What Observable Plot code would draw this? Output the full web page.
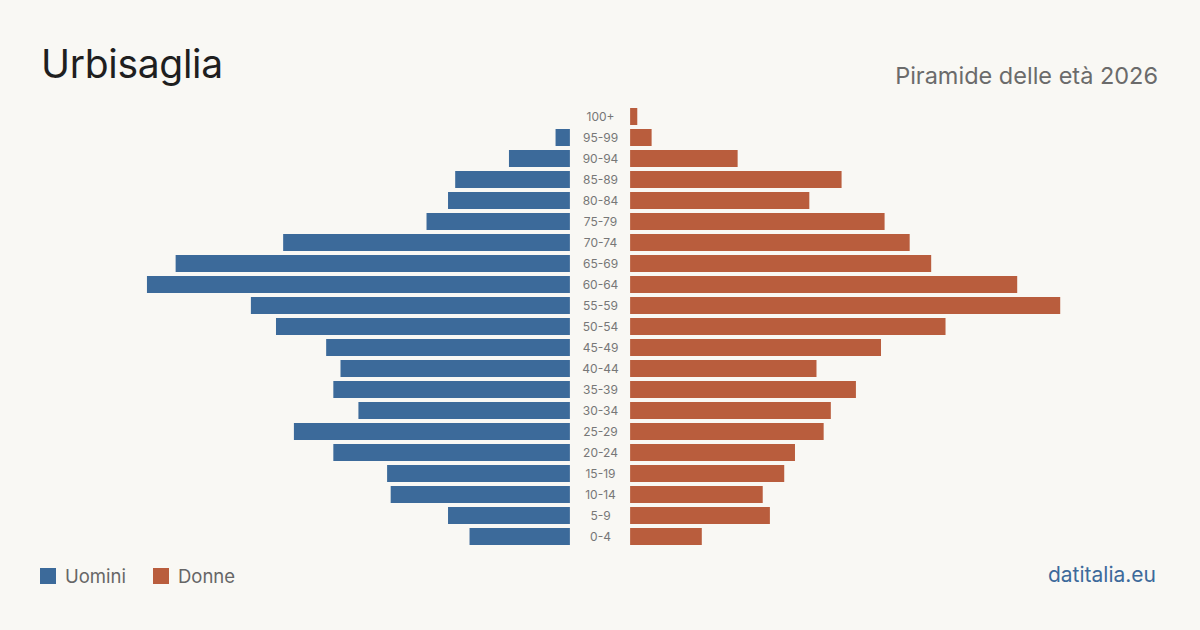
<!DOCTYPE html>
<html lang="it">
<head>
<meta charset="utf-8">
<title>Urbisaglia – Piramide delle età 2026</title>
<script src="https://cdn.jsdelivr.net/npm/d3@7"></script>
<script src="https://cdn.jsdelivr.net/npm/@observablehq/plot@0.6"></script>
<style>
  html, body { margin: 0; padding: 0; }
  body {
    width: 1200px; height: 630px; overflow: hidden;
    background: #f9f8f4; position: relative;
    font-family: Inter, "Noto Sans", sans-serif;
  }
  .title { position: absolute; left: 41px; top: 44px; font-size: 39px; line-height: 40px; color: #1f1f1f; letter-spacing: -0.3px; }
  .subtitle { position: absolute; right: 42px; top: 62px; font-size: 23.5px; line-height: 28px; color: #6b6b6b; }
  #chart { position: absolute; left: 0; top: 106px; }
  .legend { position: absolute; left: 40px; top: 565px; display: flex; align-items: center; font-size: 18.5px; color: #666; }
  .legend .item { display: flex; align-items: center; margin-right: 27px; }
  .legend .sw { width: 16px; height: 16px; margin-right: 9px; }
  .source { position: absolute; right: 44px; top: 562px; font-size: 21px; color: #3d6a9b; }
</style>
</head>
<body>
<div class="title">Urbisaglia</div>
<div class="subtitle">Piramide delle età 2026</div>
<div id="chart"></div>
<div class="legend">
  <div class="item"><div class="sw" style="background:#3c6a9a"></div>Uomini</div>
  <div class="item"><div class="sw" style="background:#b95d3d"></div>Donne</div>
</div>
<div class="source">datitalia.eu</div>
<script>
// Age classes, oldest at the top
const ages = ["100+", "95-99", "90-94", "85-89", "80-84", "75-79", "70-74", "65-69", "60-64",
  "55-59", "50-54", "45-49", "40-44", "35-39", "30-34", "25-29", "20-24", "15-19", "10-14", "5-9", "0-4"];

// Residents per age class
const uomini = [0, 4, 17, 32, 34, 40, 80, 110, 118, 89, 82, 68, 64, 66, 59, 77, 66, 51, 50, 34, 28];
const donne  = [2, 6, 30, 59, 50, 71, 78, 84, 108, 120, 88, 70, 52, 63, 56, 54, 46, 43, 37, 39, 20];

const colors = { Uomini: "#3c6a9a", Donne: "#b95d3d" };

// Half of the central gap that holds the age labels, and half the x extent (data units)
const halfGap = 8.4;
const xExtent = 167.4;

const rows = ages.flatMap((age, i) => [
  { age, sex: "Uomini", value: uomini[i] },
  { age, sex: "Donne", value: donne[i] }
]).filter(d => d.value > 0);

const chart = Plot.plot({
  width: 1200,
  height: 442,
  marginTop: 0, marginBottom: 0, marginLeft: 0, marginRight: 0,
  style: { background: "transparent", fontFamily: "Inter, 'Noto Sans', sans-serif" },
  x: { domain: [-xExtent, xExtent], axis: null },
  y: { domain: ages, axis: null, paddingInner: 0.19, paddingOuter: 0.095 },
  marks: [
    Plot.barX(rows, {
      y: "age",
      x1: d => d.sex === "Uomini" ? -halfGap : halfGap,
      x2: d => d.sex === "Uomini" ? -halfGap - d.value : halfGap + d.value,
      fill: d => colors[d.sex]
    }),
    Plot.text(ages, {
      x: () => 0,
      y: d => d,
      text: d => d,
      fill: "#777",
      fontSize: 12
    })
  ]
});

document.getElementById("chart").append(chart);
</script>
</body>
</html>
